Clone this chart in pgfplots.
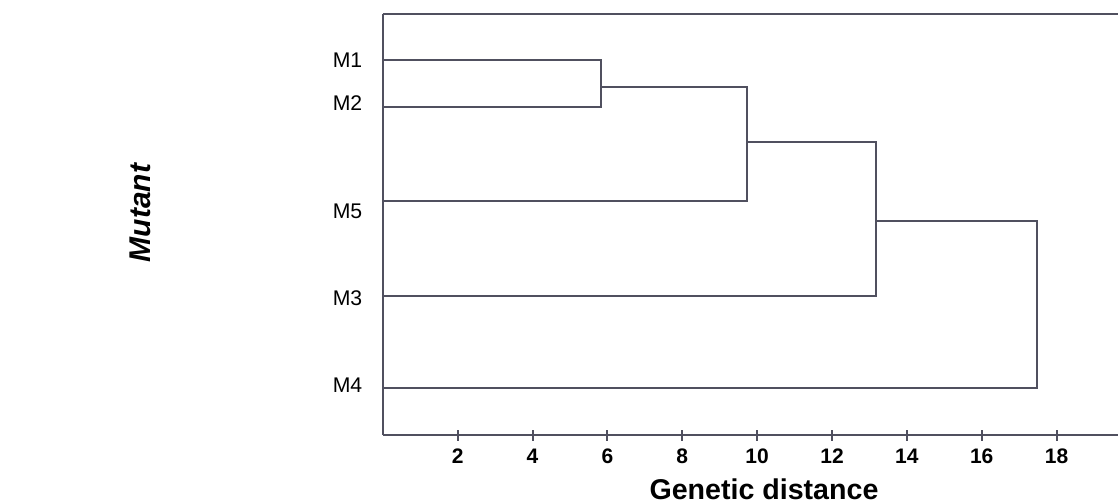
\documentclass[border=0pt]{standalone}
\usepackage{fontspec}
\setmainfont{Liberation Sans}
\usepackage{pgfplots}
\pgfplotsset{compat=1.18}

% y values are heights above the bottom axis line (reference pixels)
\pgfplotstableread{
x y
0 375
5.83 375
5.83 328
0 328
}\clusterA
\pgfplotstableread{
x y
5.83 348.3
9.72 348.3
9.72 234.3
0 234.3
}\clusterB
\pgfplotstableread{
x y
9.72 293.3
13.17 293.3
13.17 139.5
0 139.5
}\clusterC
\pgfplotstableread{
x y
13.17 214.3
17.47 214.3
17.47 47
0 47
}\clusterD

\definecolor{dline}{RGB}{80,80,95}

\begin{document}
\begin{tikzpicture}
\begin{axis}[
  scale only axis,
  width=367.6pt, height=210.5pt,
  xmin=0, xmax=19.64, ymin=0, ymax=421,
  axis x line*=bottom, axis y line*=left,
  axis line style={dline, line width=1pt},
  xtick={2,4,...,18},
  tick align=center, major tick length=5.5pt,
  xtick style={dline, line width=1pt},
  x tick label style={font=\fontsize{10.5}{12}\bfseries\selectfont, yshift=-0.5pt},
  /pgf/number format/assume math mode=true,
  ytick={375,331.7,224,137.2,49.5},
  yticklabels={M1,M2,M5,M3,M4},
  ytick style={draw=none},
  y tick label style={font=\fontsize{10.6}{12}\selectfont, xshift=-4pt},
  xlabel={Genetic distance},
  xlabel style={font=\fontsize{14.3}{16}\bfseries\selectfont, at={(axis description cs:0.5185,0)}, anchor=base, yshift=-32pt},
  ylabel={Mutant},
  ylabel style={font=\fontsize{15}{17}\bfseries\itshape\selectfont, at={(axis description cs:-0.330,0.527)}, anchor=center},
  clip=false,
]
\addplot[dline, line width=1pt, sharp plot] table {\clusterA};
\addplot[dline, line width=1pt, sharp plot] table {\clusterB};
\addplot[dline, line width=1pt, sharp plot] table {\clusterC};
\addplot[dline, line width=1pt, sharp plot] table {\clusterD};
\draw[dline, line width=1pt] (rel axis cs:0,1) -- (rel axis cs:1,1);
\coordinate (o) at (rel axis cs:0,0);
\end{axis}
\pgfresetboundingbox
\useasboundingbox ([xshift=-191.4pt,yshift=-34pt]o) rectangle ++(559pt,251.5pt);
\end{tikzpicture}
\end{document}
